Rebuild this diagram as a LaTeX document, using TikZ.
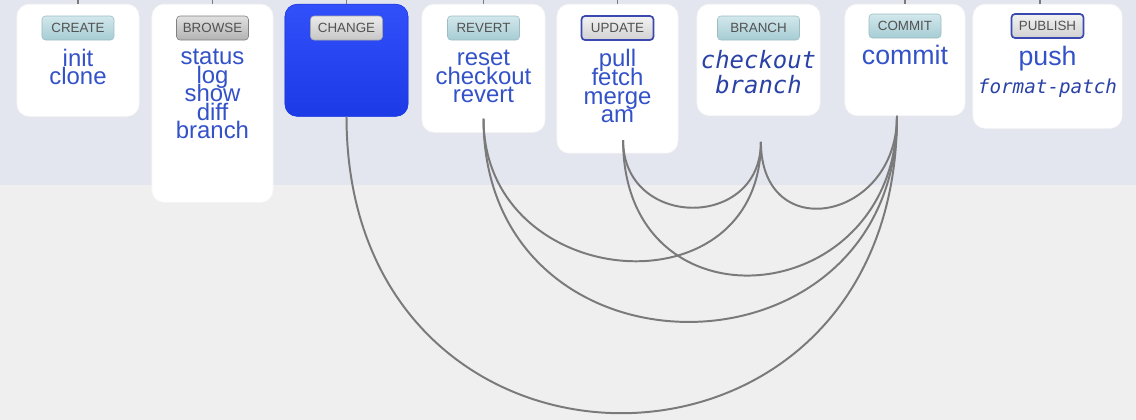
\documentclass[tikz,border=0pt]{standalone}
\usepackage{fontspec}
\setmainfont{Liberation Sans}
\newfontfamily\codefont{DejaVu Sans Mono}
\usetikzlibrary{positioning,calc}

\definecolor{bandtop}{HTML}{E3E6EE}
\definecolor{bandlow}{HTML}{EFEFEF}
\definecolor{cmdblue}{HTML}{3352C8}
\definecolor{codeblue}{HTML}{2A42A6}
\definecolor{wiregray}{HTML}{7A7A7A}
\definecolor{changetop}{HTML}{3150FA}
\definecolor{changebot}{HTML}{1C3AE6}
\definecolor{tealtop}{HTML}{D2E8EC}
\definecolor{tealbot}{HTML}{A6CCD4}
\definecolor{tagblue}{HTML}{3A48B0}
\newcommand{\tightlines}{\lineskiplimit=-30pt\relax}

\begin{document}
\begin{tikzpicture}[x=0.025cm,y=-0.025cm,
  panel/.style={fill=white, draw=white!94!gray, rounded corners=0.3cm, anchor=north, inner sep=0pt},
  tag/.style={rounded corners=2.5pt, minimum width=1.8cm, minimum height=0.6cm, inner sep=0pt, text=black!68, font=\fontsize{9.5}{10}\selectfont},
  tealtag/.style={tag, top color=tealtop, bottom color=tealbot, draw=tealbot!80!gray},
  graytag/.style={tag, top color=black!12, bottom color=black!30, draw=black!50},
  bluetag/.style={tag, top color=black!5, bottom color=black!18, draw=tagblue, line width=1.2pt},
  cmds/.style={align=center, text=cmdblue, inner sep=0pt, font=\fontsize{17}{13.2}\selectfont\tightlines},
  code/.style={align=center, text=codeblue, inner sep=0pt, font=\codefont\itshape\fontsize{17}{17.8}\selectfont\tightlines},
  wire/.style={draw=wiregray, line width=1.4pt}]

\useasboundingbox (0,0) rectangle (1136,420);
\fill[bandtop] (0,0) rectangle (1136,185);
\fill[bandlow] (0,185) rectangle (1136,420);

\node[panel, minimum width=3.05cm, minimum height=2.8cm] (CR) at (78,4) {};
\node[panel, minimum width=3.025cm, minimum height=4.95cm] (BW) at (212.5,4) {};
\node[panel, fill=changebot, top color=changetop, bottom color=changebot, draw=changebot, minimum width=3.075cm, minimum height=2.8cm] (CH) at (346.5,4) {};
\node[panel, minimum width=3.075cm, minimum height=3.2cm] (RV) at (483.5,4) {};
\node[panel, minimum width=3.025cm, minimum height=3.72cm] (UP) at (617.5,4) {};
\node[panel, minimum width=3.075cm, minimum height=2.78cm] (BR) at (758.5,4) {};
\node[panel, minimum width=3cm, minimum height=2.78cm] (CM) at (905,4) {};
\node[panel, minimum width=3.725cm, minimum height=3.1cm] (PB) at (1047.5,4) {};

\node[tealtag] (CRt) at ([yshift=-0.6cm]CR.north) {CREATE};
\node[graytag] (BWt) at ([yshift=-0.6cm]BW.north) {BROWSE};
\node[tag, top color=black!8, bottom color=black!22, draw=black!35] (CHt) at ([yshift=-0.6cm]CH.north) {CHANGE};
\node[tealtag] (RVt) at ([yshift=-0.6cm]RV.north) {REVERT};
\node[bluetag] (UPt) at ([yshift=-0.6cm]UP.north) {UPDATE};
\node[tealtag, minimum width=2.05cm] (BRt) at ([yshift=-0.6cm]BR.north) {BRANCH};
\node[tealtag] (CMt) at ([yshift=-0.55cm]CM.north) {COMMIT};
\node[bluetag] (PBt) at ([yshift=-0.55cm]PB.north) {PUBLISH};

\node[cmds, below=6pt of CRt] (CRc) {init\\clone};
\node[cmds, below=6pt of BWt] (BWc) {status\\log\\show\\diff\\branch};
\node[cmds, below=7pt of RVt] (RVc) {reset\\checkout\\revert};
\node[cmds, below=6pt of UPt] (UPc) {pull\\fetch\\merge\\am};
\node[code, below=7pt of BRt] (BRc) {checkout\\branch};
\node[cmds, font=\fontsize{19}{15}\selectfont, below=5pt of CMt] (CMc) {commit};
\node[cmds, font=\fontsize{19}{15}\selectfont, below=5pt of PBt] (PBc) {push};
\node[code, font=\codefont\itshape\fontsize{13.7}{15}\selectfont, below=5pt of PBc] (PBx) {format-patch};

\draw[wire] (CR.north) -- ++(0,-5);
\draw[wire] (BW.north) -- ++(0,-5);
\draw[wire] (CH.north) -- ++(0,-5);
\draw[wire] (RV.north) -- ++(0,-5);
\draw[wire] (UP.north) -- ++(0,-5);
\draw[wire] (CM.north) -- ++(0,-5);
\draw[wire] ([xshift=-0.18cm]PB.north) -- ++(0,-5);

\coordinate (CHp) at (CH.south);
\coordinate (RVp) at ([yshift=0.35cm]RV.south);
\coordinate (UPp) at ([xshift=0.14cm,yshift=0.33cm]UP.south);
\coordinate (BRp) at ([xshift=0.06cm,yshift=-0.65cm]BR.south);
\coordinate (CMp) at ([xshift=-0.2cm]CM.south);

\draw[wire] (CHp) .. controls ($(CHp)+(0,396)$) and ($(CMp)+(0,396)$) .. (CMp);
\draw[wire] (RVp) .. controls ($(RVp)+(0,273)$) and ($(CMp)+(0,273)$) .. (CMp);
\draw[wire] (RVp) .. controls ($(RVp)+(0,174)$) and ($(BRp)+(0,174)$) .. (BRp);
\draw[wire] (UPp) .. controls ($(UPp)+(0,196)$) and ($(CMp)+(0,196)$) .. (CMp);
\draw[wire] (UPp) .. controls ($(UPp)+(0,89)$) and ($(BRp)+(0,89)$) .. (BRp);
\draw[wire] (BRp) .. controls ($(BRp)+(0,105)$) and ($(CMp)+(0,105)$) .. (CMp);

\end{tikzpicture}
\end{document}
